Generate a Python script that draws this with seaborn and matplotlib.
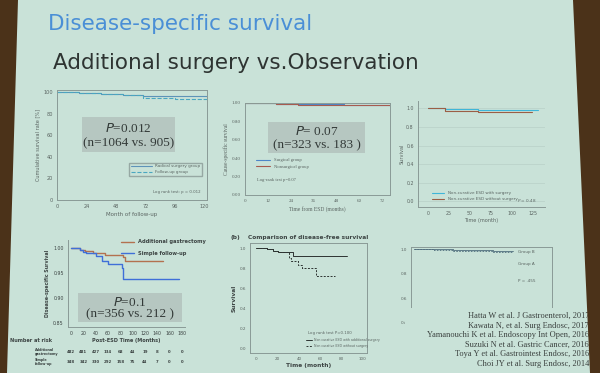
import numpy as np
import pandas as pd
import seaborn as sns
import matplotlib.pyplot as plt
from matplotlib.patches import Polygon, Rectangle

# =========================
# DATA
# =========================
# panel 1: Hatta 2017, cumulative survival rate [%]
p1_months = [0, 18, 36, 54, 70, 96, 122]
p1_radical = [100, 99.5, 98.5, 97.5, 96.5, 96.0, 95.5]
p1_followup = [100, 99.0, 98.0, 97.0, 95.0, 94.0, 93.0]

# panel 2: Kawata 2017, cause-specific survival
p2_months = [0, 8, 16, 28, 40, 52, 64, 76]
p2_surgical = [1.0, 0.995, 0.99, 0.985, 0.985, 0.98, 0.975, 0.972]
p2_nonsurgical = [1.0, 0.995, 0.988, 0.983, 0.98, 0.978, 0.975, 0.975]

# panel 3: Yamanouchi 2016
p3_with_t = [0, 20, 60, 132]
p3_with = [1.0, 0.99, 0.985, 0.985]
p3_without_t = [0, 20, 60, 125]
p3_without = [1.0, 0.975, 0.965, 0.965]

# panel 4: Suzuki 2016, disease-specific survival
p4_gast_t = [0, 15, 22, 35, 55, 85, 87, 150]
p4_gast = [1.0, 0.997, 0.994, 0.99, 0.986, 0.983, 0.975, 0.975]
p4_simple_t = [0, 15, 20, 25, 40, 50, 60, 82, 85, 175]
p4_simple = [1.0, 0.996, 0.993, 0.99, 0.985, 0.975, 0.968, 0.96, 0.938, 0.938]
risk_ticks = [0, 20, 40, 60, 80, 100, 120, 140, 160, 180]
risk_gast = [482, 481, 427, 134, 68, 44, 19, 8, 0, 0]
risk_simple = [348, 342, 330, 292, 158, 75, 44, 7, 0, 0]

# panel 5: Toya 2016, disease-free survival
p5_with_t = [0, 10, 16, 20, 34, 85]
p5_with = [1.0, 0.99, 0.975, 0.96, 0.917, 0.917]
p5_without_t = [0, 10, 16, 20, 31, 33, 39, 43, 56, 74]
p5_without = [1.0, 0.99, 0.975, 0.96, 0.9, 0.87, 0.83, 0.807, 0.72, 0.72]

# panel 6: Choi 2014
p6_t = [0, 20, 40, 60, 80, 100]
p6_groupB = [1.0, 1.0, 0.995, 0.995, 0.99, 0.99]
p6_groupA = [1.0, 0.995, 0.99, 0.985, 0.98, 0.98]

overlays = [
    ("P=0.012", "(n=1064 vs. 905)"),
    ("P= 0.07", "(n=323 vs. 183 )"),
    ("P=0.1", "(n=356 vs. 212 )"),
]

references = [
    "Hatta W et al. J Gastroenterol, 2017",
    "Kawata N, et al. Surg Endosc, 2017",
    "Yamanouchi K et al. Endoscopy Int Open, 2016",
    "Suzuki N et al. Gastric Cancer, 2016",
    "Toya Y et al. Gastrointest Endosc, 2016",
    "Choi JY et al. Surg Endosc, 2014",
]

# =========================
# STYLE
# =========================
sns.set_style("white")
plt.rcParams['font.family'] = ['DejaVu Sans']

W, H = 600, 373
SLIDE = "#c9e2d8"
BROWN = "#4b3219"
GREY_TXT = "#5a6461"
SPINE = "#8a9a96"
BOXC = "#b3c3bd"

fig = plt.figure(figsize=(6.0, 3.73), dpi=100)
fig.patch.set_facecolor(SLIDE)


def px(left, top, right, bottom):
    return [left / W, 1 - bottom / H, (right - left) / W, (bottom - top) / H]


def fx(x, y):
    return (x / W, 1 - y / H)


def style_ax(ax, size=3.6):
    ax.set_facecolor("none")
    for s in ax.spines.values():
        s.set_color(SPINE)
        s.set_linewidth(0.7)
    ax.tick_params(labelsize=size, colors=GREY_TXT, length=2, width=0.5, pad=1)


def km(ax, t, s, color, ls="-", lw=0.8):
    df = pd.DataFrame({"t": t, "s": s})
    sns.lineplot(data=df, x="t", y="s", ax=ax, color=color, linestyle=ls,
                 linewidth=lw, drawstyle="steps-post", legend=False)


def overlay(x0, y0, x1, y1, lines):
    fig.patches.append(Rectangle(fx(x0, y1), (x1 - x0) / W, (y1 - y0) / H,
                                 transform=fig.transFigure, facecolor=BOXC,
                                 edgecolor="none", alpha=0.85, zorder=5))
    cx = (x0 + x1) / 2
    fig.text(*fx(cx, y0 + (y1 - y0) * 0.32), "$P$" + lines[0][1:], ha="center",
             va="center", family="Liberation Serif", fontsize=9.5,
             color="#333a38", zorder=6)
    fig.text(*fx(cx, y0 + (y1 - y0) * 0.74), lines[1], ha="center", va="center",
             family="Liberation Serif", fontsize=9.5, color="#333a38", zorder=6)


# =========================
# Slide borders and titles
# =========================
fig.patches.append(Polygon([fx(0, 0), fx(18, 0), fx(7, H), fx(0, H)],
                           closed=True, transform=fig.transFigure,
                           facecolor=BROWN, edgecolor="none", zorder=10))
fig.patches.append(Polygon([fx(573, 0), fx(W, 0), fx(W, H), fx(590, H)],
                           closed=True, transform=fig.transFigure,
                           facecolor=BROWN, edgecolor="none", zorder=10))

fig.text(*fx(48, 24), "Disease-specific survival", fontsize=15.5, color="#4a8fd6",
         va="center", ha="left")
fig.text(*fx(53, 63), "Additional surgery vs.Observation", fontsize=15.5,
         color="#2e3432", va="center", ha="left")

# =========================
# Panel 1
# =========================
ax1 = fig.add_axes(px(57, 90, 207, 200))
style_ax(ax1)
km(ax1, p1_months, p1_radical, "#5e93b8")
km(ax1, p1_months, p1_followup, "#4aa7c0", ls="--")
ax1.set_xlim(0, 122)
ax1.set_ylim(0, 102)
ax1.set_xticks([0, 24, 48, 72, 96, 120])
ax1.set_yticks([0, 20, 40, 60, 80, 100])
ax1.set_xlabel("Month of follow-up", fontsize=4, color=GREY_TXT, labelpad=2)
ax1.set_ylabel("Cumulative survival rate [%]", fontsize=3.6, color=GREY_TXT,
               labelpad=2)
ax1.text(0.96, 0.06, "Log rank test: p = 0.012", transform=ax1.transAxes,
         ha="right", fontsize=2.8, color=GREY_TXT)
leg1 = ax1.legend(handles=ax1.lines, labels=["Radical surgery group", "Follow-up group"],
                  loc="lower right", bbox_to_anchor=(0.98, 0.2), fontsize=3,
                  frameon=True, fancybox=False, edgecolor=SPINE, handlelength=5)
leg1.get_frame().set_facecolor("none")
for t in leg1.get_texts():
    t.set_color(GREY_TXT)

# =========================
# Panel 2
# =========================
ax2 = fig.add_axes(px(245, 103, 390, 195))
style_ax(ax2)
km(ax2, p2_months, p2_surgical, "#4d86c8")
km(ax2, p2_months, p2_nonsurgical, "#a75b4f")
ax2.set_xlim(0, 76)
ax2.set_ylim(0, 1.0)
ax2.set_xticks([0, 12, 24, 36, 48, 60, 72])
ax2.set_yticks([0, 0.2, 0.4, 0.6, 0.8, 1.0])
ax2.set_yticklabels(["0.00", "0.20", "0.40", "0.60", "0.80", "1.00"],
                    family="Liberation Serif")
ax2.set_xticklabels([0, 12, 24, 36, 48, 60, 72], family="Liberation Serif")
ax2.set_xlabel("Time from ESD (months)", fontsize=4, color=GREY_TXT,
               family="Liberation Serif", labelpad=2)
ax2.set_ylabel("Cause-specific survival", fontsize=4, color=GREY_TXT,
               family="Liberation Serif", labelpad=2)
leg2 = ax2.legend(handles=ax2.lines, labels=["Surgical group", "Nonsurgical group"],
                  loc="lower left", bbox_to_anchor=(0.05, 0.24), fontsize=3.3,
                  frameon=False, handlelength=3, prop={"family": "Liberation Serif", "size": 3.3})
for t in leg2.get_texts():
    t.set_color(GREY_TXT)
ax2.text(0.08, 0.15, "Log-rank test p=0.07", transform=ax2.transAxes,
         fontsize=3.3, color=GREY_TXT, family="Liberation Serif")

# =========================
# Panel 3
# =========================
ax3 = fig.add_axes(px(418, 101, 545, 207))
style_ax(ax3, size=3.4)
km(ax3, p3_with_t, p3_with, "#3fb6d8")
km(ax3, p3_without_t, p3_without, "#9b5e45")
ax3.set_xlim(-12, 140)
ax3.set_ylim(-0.06, 1.08)
ax3.set_xticks([0, 25, 50, 75, 100, 125])
ax3.set_yticks([0, 0.2, 0.4, 0.6, 0.8, 1.0])
ax3.set_yticklabels(["0.0", "0.2", "0.4", "0.6", "0.8", "1.0"])
ax3.grid(axis="y", color="#b9d0c8", linewidth=0.5)
ax3.spines["top"].set_visible(False)
ax3.spines["right"].set_visible(False)
ax3.set_xlabel("Time (month)", fontsize=3.6, color=GREY_TXT, labelpad=1)
ax3.set_ylabel("Survival", fontsize=3.6, color=GREY_TXT, labelpad=1)
leg3 = ax3.legend(handles=ax3.lines,
                  labels=["Non-curative ESD with surgery", "Non-curative ESD without surgery"],
                  loc="lower left", bbox_to_anchor=(0.08, 0.02), fontsize=3,
                  frameon=False, handlelength=3)
for t in leg3.get_texts():
    t.set_color(GREY_TXT)
ax3.text(0.93, 0.05, "$P$ = 0.48", transform=ax3.transAxes, ha="right",
         fontsize=3, color=GREY_TXT)

# =========================
# Panel 4
# =========================
ax4 = fig.add_axes(px(68, 240, 185, 327))
style_ax(ax4, size=3.4)
km(ax4, p4_gast_t, p4_gast, "#b3714f", lw=1.0)
km(ax4, p4_simple_t, p4_simple, "#3f6fd8", lw=1.0)
ax4.set_xlim(-5, 185)
ax4.set_ylim(0.842, 1.017)
ax4.set_xticks(risk_ticks)
ax4.set_yticks([0.85, 0.90, 0.95, 1.00])
ax4.set_yticklabels(["0.85", "0.90", "0.95", "1.00"])
ax4.spines["top"].set_visible(False)
ax4.spines["right"].set_visible(False)
ax4.tick_params(labelsize=3.4, colors="#3c4443")
ax4.set_xlabel("Post-ESD Time (Months)", fontsize=3.6, color="#3c4443",
               fontweight="bold", labelpad=1)
ax4.set_ylabel("Disease-specific Survival", fontsize=3.4, color="#3c4443",
               fontweight="bold", labelpad=2)
leg4 = ax4.legend(handles=ax4.lines,
                  labels=["Additional gastrectomy", "Simple follow-up"],
                  loc="upper right", bbox_to_anchor=(1.22, 1.06),
                  frameon=False, handlelength=2.5, labelspacing=1.3,
                  prop={"weight": "bold", "size": 3.7})
for t in leg4.get_texts():
    t.set_color("#3c4443")
fig.text(*fx(10, 341), "Number at risk", fontsize=3.6, fontweight="bold",
         color="#3c4443", va="center")
fig.text(*fx(35, 352), "Additional\ngastrectomy", fontsize=2.4, fontweight="bold",
         color="#3c4443", va="center")
fig.text(*fx(35, 362), "Simple\nfollow-up", fontsize=2.4, fontweight="bold",
         color="#3c4443", va="center")
for xt, a, b in zip(risk_ticks, risk_gast, risk_simple):
    fig.text(ax4.transData.transform((xt, 0))[0] / fig.dpi / fig.get_figwidth(),
             1 - 352 / H, str(a), fontsize=2.8, color="#3c4443", ha="center",
             va="center", fontweight="bold")
    fig.text(ax4.transData.transform((xt, 0))[0] / fig.dpi / fig.get_figwidth(),
             1 - 362 / H, str(b), fontsize=2.8, color="#3c4443", ha="center",
             va="center", fontweight="bold")

# =========================
# Panel 5
# =========================
ax5 = fig.add_axes(px(250, 243, 367, 353))
style_ax(ax5, size=3)
km(ax5, p5_with_t, p5_with, "#2d3331", lw=0.7)
km(ax5, p5_without_t, p5_without, "#2d3331", ls=(0, (2, 1.5)), lw=0.7)
ax5.set_xlim(-6, 104)
ax5.set_ylim(-0.04, 1.05)
ax5.set_xticks([0, 20, 40, 60, 80, 100])
ax5.set_yticks([0, 0.2, 0.4, 0.6, 0.8, 1.0])
ax5.set_xlabel("Time (month)", fontsize=4.2, fontweight="bold",
               color="#3c4443", labelpad=1)
ax5.set_ylabel("Survival", fontsize=4.2, fontweight="bold", color="#3c4443",
               labelpad=2)
ax5.set_title("Comparison of disease-free survival", fontsize=4.2,
              fontweight="bold", color="#3c4443", pad=3)
fig.text(*fx(230, 238), "(b)", fontsize=4.2, fontweight="bold",
         color="#3c4443", va="center")
ax5.text(0.5, 0.17, "Log rank test P=0.100", transform=ax5.transAxes,
         fontsize=2.8, color=GREY_TXT)
leg5 = ax5.legend(handles=ax5.lines,
                  labels=["Non curative ESD with additional surgery",
                          "Non curative ESD without surgery"],
                  loc="lower left", bbox_to_anchor=(0.45, 0.02), fontsize=2.3,
                  frameon=False, handlelength=2)
for t in leg5.get_texts():
    t.set_color(GREY_TXT)

# =========================
# Panel 6
# =========================
ax6 = fig.add_axes(px(411, 247, 552, 330))
style_ax(ax6, size=3)
km(ax6, p6_t, p6_groupB, "#4f6e7c", lw=0.6)
km(ax6, p6_t, p6_groupA, "#4f6e7c", ls=(0, (2, 1.5)), lw=0.6)
ax6.set_xlim(-3, 140)
ax6.set_ylim(0.34, 1.02)
ax6.set_yticks([0.4, 0.6, 0.8, 1.0])
ax6.set_yticklabels(["0.4", "0.6", "0.8", "1.0"])
ax6.set_xticks([])
ax6.set_xlabel("")
ax6.set_ylabel("")
ax6.text(0.76, 0.93, "Group B", transform=ax6.transAxes, fontsize=3,
         color=GREY_TXT)
ax6.text(0.76, 0.78, "Group A", transform=ax6.transAxes, fontsize=3,
         color=GREY_TXT)
ax6.text(0.76, 0.58, "P = .455", transform=ax6.transAxes, fontsize=3,
         color=GREY_TXT)

# references block covers the bottom of panel 6
fig.patches.append(Rectangle(fx(405, 373), 170 / W, 65 / H,
                             transform=fig.transFigure, facecolor=SLIDE,
                             edgecolor="none", zorder=7))
for i, ref in enumerate(references):
    fig.text(*fx(589, 316 + i * 9.6), ref, ha="right", va="center",
             family="Liberation Serif", fontsize=6.0, color="#3a403e",
             zorder=8)

# =========================
# Overlay boxes with P values
# =========================
overlay(82, 117, 175, 152, overlays[0])
overlay(268, 122, 365, 153, overlays[1])
overlay(78, 293, 182, 322, overlays[2])

fig.savefig("out.png", dpi=100, facecolor=fig.get_facecolor())
